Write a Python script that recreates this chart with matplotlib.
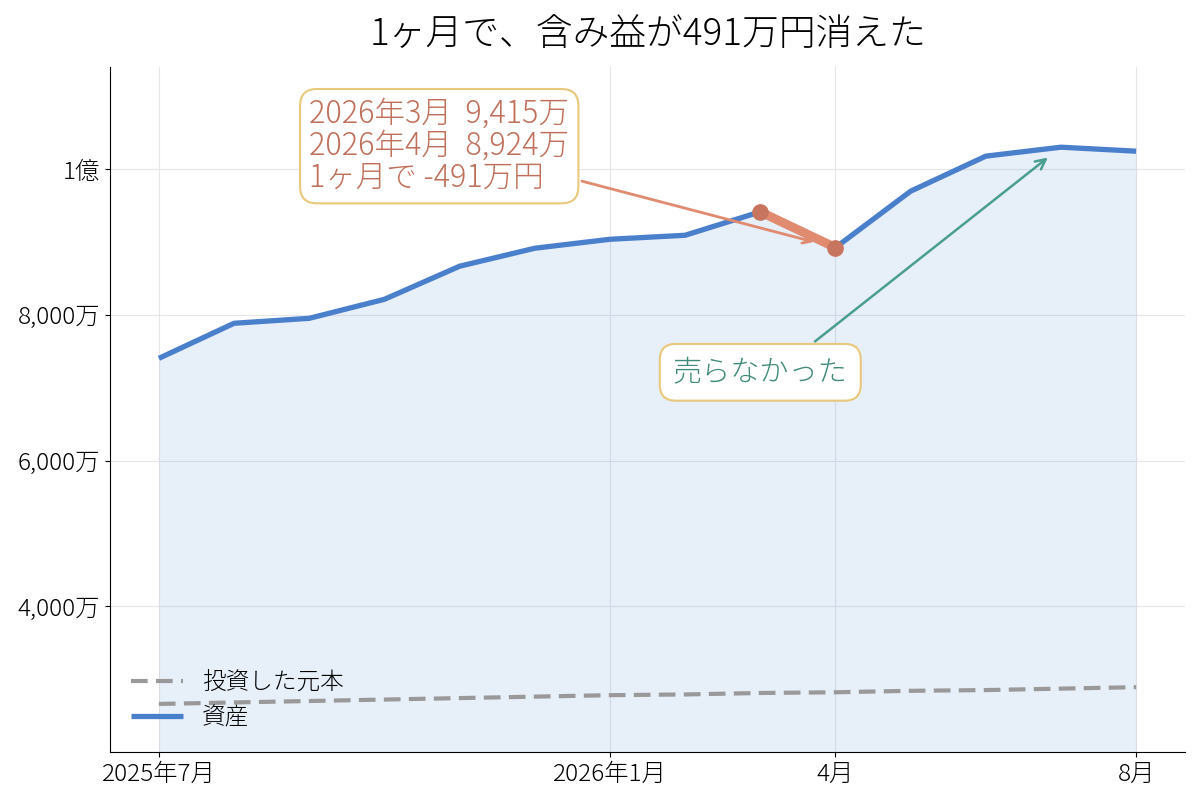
import matplotlib
matplotlib.use("Agg")
import matplotlib.pyplot as plt
from matplotlib.ticker import FuncFormatter, FixedLocator

plt.rcParams['font.family'] = ['Noto Sans CJK JP', 'DejaVu Sans']

months = ["2025-07", "2025-08", "2025-09", "2025-10", "2025-11", "2025-12",
          "2026-01", "2026-02", "2026-03", "2026-04", "2026-05", "2026-06",
          "2026-07", "2026-08"]
assets = [7404, 7885, 7953, 8214, 8668, 8915, 9038, 9093, 9415, 8924,
          9698, 10179, 10302, 10247]
principal = [2660, 2680, 2700, 2720, 2740, 2760, 2780, 2790, 2810, 2820,
             2840, 2850, 2870, 2890]
tick_idx = [0, 6, 9, 13]
tick_labels = ["2025年7月", "2026年1月", "4月", "8月"]
ytick_vals = [4000, 6000, 8000, 10000]

x = list(range(len(months)))

fig = plt.figure(figsize=(12, 8), dpi=100)
ax = fig.add_axes([0.0917, 0.06, 0.8958, 0.856])

blue = "#4a7fcb"
ax.fill_between(x, assets, 0, color="#4a86d8", alpha=0.13, lw=0)
ax.plot(x, principal, color="#999999", lw=3, ls=(0, (4, 2)), label="投資した元本", zorder=3)
ax.plot(x, assets, color=blue, lw=3.8, label="資産", zorder=4, solid_capstyle='butt')

i3, i4 = 8, 9
ax.plot([x[i3], x[i4]], [assets[i3], assets[i4]], color="#e08a70", lw=6.5, zorder=5)
ax.plot([x[i3], x[i4]], [assets[i3], assets[i4]], 'o', color="#c87560", ms=11, zorder=6)

ax.set_xlim(-0.65, 13.65)
ax.set_ylim(2000, 11400)

ax.xaxis.set_major_locator(FixedLocator(tick_idx))
ax.set_xticklabels(tick_labels)

def yfmt(v, pos):
    if v >= 10000:
        return f"{v/10000:g}億"
    return f"{int(v):,}万"
ax.yaxis.set_major_locator(FixedLocator(ytick_vals))
ax.yaxis.set_major_formatter(FuncFormatter(yfmt))
ax.tick_params(labelsize=17.5)
for lab in ax.get_xticklabels() + ax.get_yticklabels():
    lab.set_fontweight(300)

ax.grid(True, color="#e6e6e6", lw=0.8)
ax.set_axisbelow(True)
for s in ["top", "right"]:
    ax.spines[s].set_visible(False)

d = assets[i3] - assets[i4]
txt1 = f"2026年3月  {assets[i3]:,}万\n2026年4月  {assets[i4]:,}万\n1ヶ月で -{d}万円"
ax.annotate(txt1, xy=(x[i4], assets[i4]), xytext=(2.0, 10316),
            ha='left', va='center', fontsize=22, color="#c0705a", linespacing=1.0,
            fontweight=300,
            bbox=dict(boxstyle="round,pad=0.3,rounding_size=0.55", fc="white", ec="#e8c87a", lw=1.5),
            arrowprops=dict(arrowstyle="->", color="#e08a70", lw=2, relpos=(1.0, 0.17),
                            shrinkA=2, shrinkB=16, mutation_scale=15),
            zorder=7)

ax.annotate("売らなかった", xy=(x[12], assets[12]), xytext=(8.0, 7212),
            ha='center', va='center', fontsize=21, color="#3f8a7a", fontweight=300,
            bbox=dict(boxstyle="round,pad=0.45,rounding_size=0.55", fc="white", ec="#e8c87a", lw=1.5),
            arrowprops=dict(arrowstyle="->", color="#4a9e90", lw=1.8, relpos=(0.7, 1.0),
                            shrinkA=2, shrinkB=12, mutation_scale=18),
            zorder=7)

leg = ax.legend(loc="lower left", frameon=False, fontsize=17, handlelength=2.2,
                bbox_to_anchor=(0.0, 0.0), labelspacing=0.45)
for t in leg.get_texts():
    t.set_fontweight(300)

ax.set_title("1ヶ月で、含み益が491万円消えた", fontsize=26.5, pad=16, fontweight=300)

fig.savefig("out.png", dpi=100)
